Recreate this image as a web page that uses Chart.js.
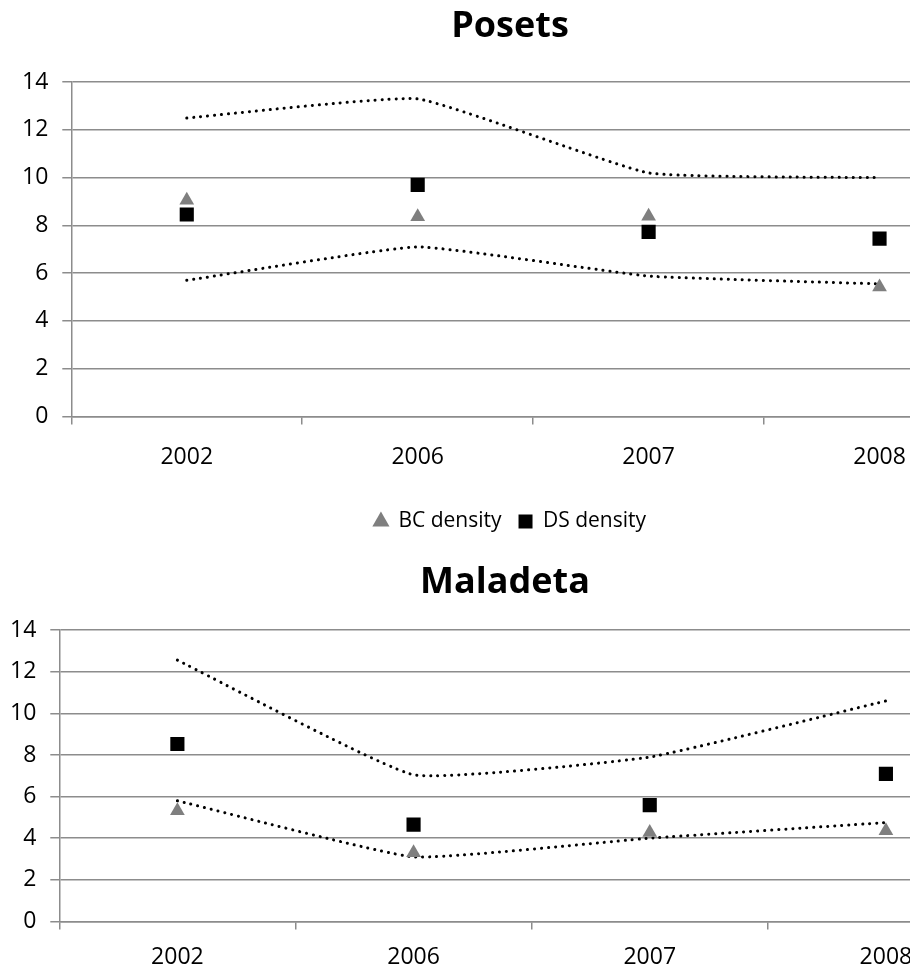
<!DOCTYPE html>
<html>
<head>
<meta charset="utf-8">
<script src="https://cdn.jsdelivr.net/npm/chart.js@4/dist/chart.umd.min.js"></script>
<style>
    html, body { margin: 0; padding: 0; background: #fff; overflow: hidden; }
    #wrap { position: relative; width: 910px; height: 969px; overflow: hidden; }
    #posetsChart { position: absolute; left: 0; top: 0; }
    #maladetaChart { position: absolute; left: -4px; top: 545px; }
</style>
</head>
<body>
<div id="wrap">
    <canvas id="posetsChart" width="1012" height="542"></canvas>
    <canvas id="maladetaChart" width="1018" height="440"></canvas>
</div>
<script>
const years = ["2002", "2006", "2007", "2008"];
const yTicks = [0, 2, 4, 6, 8, 10, 12, 14];

const posetsBC = [9.05, 8.36, 8.38, 5.42];
const posetsDS = [8.46, 9.7, 7.73, 7.45];
const posetsUpper = [12.5, 13.3, 10.2, 10.0];
const posetsLower = [5.7, 7.1, 5.88, 5.55];

const maladetaBC = [5.32, 3.3, 4.27, 4.36];
const maladetaDS = [8.53, 4.65, 5.59, 7.09];
const maladetaUpper = [12.56, 7.05, 7.9, 10.6];
const maladetaLower = [5.8, 3.1, 4.0, 4.75];

const gridGray = "#8c8c8c";
const font = "'Open Sans', 'DejaVu Sans', sans-serif";

const dotted = (data) => ({
    label: "",
    data: data,
    showLine: true,
    borderColor: "#000",
    borderWidth: 3,
    borderDash: [0.1, 6.9],
    borderCapStyle: "round",
    tension: 0.12,
    pointRadius: 0,
    fill: false
});

const buildDatasets = (bc, ds, upper, lower) => [{
    label: "BC density",
    data: bc,
    showLine: false,
    pointStyle: "triangle",
    pointRadius: 8.5,
    backgroundColor: "#7f7f7f",
    borderColor: "#7f7f7f",
    borderWidth: 0
}, {
    label: "DS density",
    data: ds,
    showLine: false,
    pointStyle: "rect",
    pointRadius: 10,
    backgroundColor: "#000",
    borderColor: "#000",
    borderWidth: 0
}, dotted(upper), dotted(lower)];

const buildOptions = (title, opts) => ({
    responsive: false,
    animation: false,
    layout: { padding: opts.padding },
    plugins: {
        title: {
            display: true,
            text: title,
            color: "#000",
            font: { family: font, size: 36, weight: "bold" },
            padding: opts.titlePadding
        },
        legend: {
            display: opts.legend,
            position: "bottom",
            labels: {
                color: "#000",
                font: { family: font, size: 21 },
                usePointStyle: true,
                boxWidth: 14,
                boxHeight: 14,
                padding: 17,
                filter: (item) => item.text !== ""
            }
        },
        tooltip: { enabled: false }
    },
    scales: {
        x: {
            offset: true,
            grid: {
                offset: true,
                drawOnChartArea: false,
                drawTicks: true,
                tickLength: 8,
                color: gridGray,
                lineWidth: 1.5
            },
            border: { color: gridGray, width: 1.5 },
            ticks: {
                color: "#000",
                font: { family: font, size: 23 },
                padding: opts.xPad
            },
            afterFit: (scale) => { scale.height += opts.xExtra; }
        },
        y: {
            min: 0,
            max: 14,
            afterBuildTicks: (scale) => { scale.ticks = yTicks.map(v => ({ value: v })); },
            grid: {
                color: gridGray,
                lineWidth: 1.5,
                tickLength: 9
            },
            border: { color: gridGray, width: 1.5 },
            ticks: {
                color: "#000",
                font: { family: font, size: 23 },
                padding: 14
            }
        },
        // empty right-hand space, the picture is cut off there
        yRight: {
            position: "right",
            grid: { display: false },
            border: { display: false },
            ticks: { display: false },
            afterFit: (scale) => { scale.width = opts.rightSpace; }
        }
    }
});

new Chart(document.getElementById("posetsChart"), {
    type: "line",
    data: {
        labels: years,
        datasets: buildDatasets(posetsBC, posetsDS, posetsUpper, posetsLower)
    },
    options: buildOptions("Posets", {
        padding: { left: 8, right: 0, top: 0, bottom: 0 },
        titlePadding: { top: 5, bottom: 34 },
        legend: true,
        xPad: 19,
        xExtra: 4,
        rightSpace: 17
    })
});

new Chart(document.getElementById("maladetaChart"), {
    type: "line",
    data: {
        labels: years,
        datasets: buildDatasets(maladetaBC, maladetaDS, maladetaUpper, maladetaLower)
    },
    options: buildOptions("Maladeta", {
        padding: { left: 0, right: 0, top: 0, bottom: 0 },
        titlePadding: { top: 16, bottom: 26 },
        legend: false,
        xPad: 14,
        xExtra: 0,
        rightSpace: 6
    })
});
</script>
</body>
</html>
